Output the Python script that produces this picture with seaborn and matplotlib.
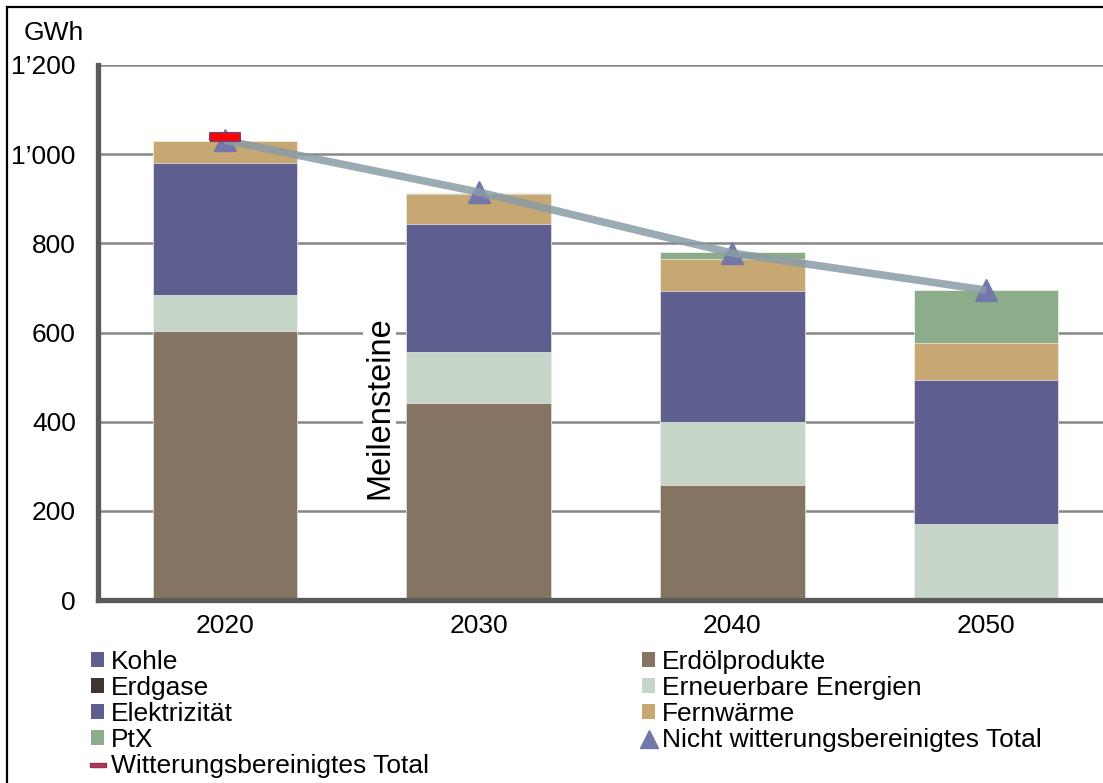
import numpy as np
import pandas as pd
import matplotlib
matplotlib.use("Agg")
import matplotlib.pyplot as plt
from matplotlib.patches import Patch, Rectangle
from matplotlib.lines import Line2D
import seaborn as sns

# data (GWh)
years = ["2020", "2030", "2040", "2050"]
kohle = [0, 0, 0, 0]
erdoel = [603, 442, 258, 0]
erdgase = [0, 0, 0, 0]
erneuerbar = [80, 114, 141, 170]
elektrizitaet = [297, 287, 294, 323]
fernwaerme = [49, 67, 72, 83]
ptx = [0, 3, 15, 119]
total_nicht_wb = [1031, 915, 778, 695]
total_wb = [1038, np.nan, np.nan, np.nan]

y_ticks = [0, 200, 400, 600, 800, 1000, 1200]
y_ticklabels = ["0", "200", "400", "600", "800", "1\u2019000", "1\u2019200"]

series = [
    ("Kohle", kohle, "#5e5f8e"),
    ("Erdölprodukte", erdoel, "#857462"),
    ("Erdgase", erdgase, "#3f3530"),
    ("Erneuerbare Energien", erneuerbar, "#c5d6c8"),
    ("Elektrizität", elektrizitaet, "#5e5f8e"),
    ("Fernwärme", fernwaerme, "#c7a772"),
    ("PtX", ptx, "#8dad8a"),
]

df = pd.DataFrame({name: vals for name, vals, _ in series}, index=years)
cum = df.cumsum(axis=1)

sns.set_theme(style="white")
plt.rcParams["font.family"] = ["Liberation Sans", "DejaVu Sans"]
plt.rcParams["text.color"] = "black"

fig = plt.figure(figsize=(11.03, 7.83), dpi=100)
ax = fig.add_axes([98 / 1103, 1 - 600 / 783, 1015 / 1103, 535 / 783])

# stacked bars: draw cumulative totals from top to bottom
for name, _, color in reversed(series):
    sns.barplot(x=years, y=cum[name].values, color=color, width=0.57,
                edgecolor="white", linewidth=0.4, saturation=1, ax=ax, zorder=2)

xpos = np.arange(len(years))
ax.plot(xpos, total_nicht_wb, linestyle="none", marker="^", markersize=16,
        color="#7377aa", zorder=3)
ax.plot(xpos, total_nicht_wb, color="#8a9ca6", lw=5.5, alpha=0.85, zorder=4,
        solid_capstyle="butt")

rect_marker = [(-1, -0.27), (1, -0.27), (1, 0.27), (-1, 0.27), (-1, -0.27)]
ax.plot(xpos, total_wb, linestyle="none", marker=rect_marker, markersize=22,
        markerfacecolor="#ff0000", markeredgecolor="#9b3050", markeredgewidth=1.5,
        zorder=5)

ax.set_xlim(-0.5, 3.5)
ax.set_ylim(0, 1200)
ax.set_yticks(y_ticks)
ax.set_yticklabels(y_ticklabels)
ax.set_xlabel("")
ax.set_ylabel("")
ax.tick_params(axis="y", length=0, pad=16, labelsize=19, labelcolor="black")
ax.tick_params(axis="x", length=0, pad=10, labelsize=19, labelcolor="black")

ax.set_axisbelow(True)
ax.yaxis.grid(True, color="#878787", lw=1.8)
ax.xaxis.grid(False)
for side in ["top", "right"]:
    ax.spines[side].set_visible(False)
for side in ["left", "bottom"]:
    ax.spines[side].set_color("#5a5a5a")
    ax.spines[side].set_linewidth(3.8)

ax.text(0.61, 431, "Meilensteine", rotation=90, ha="center", va="center",
        fontsize=23.5, color="black", zorder=6,
        bbox=dict(facecolor="white", edgecolor="none", pad=1))

fig.text(84 / 1103, 1 - 33 / 783, "GWh", ha="right", va="center", fontsize=19,
         color="black")

# legend, two columns drawn as separate legends
def sq(color):
    return Patch(facecolor=color, edgecolor="none")

col1 = [
    (sq("#5e5f8e"), "Kohle"),
    (sq("#3f3530"), "Erdgase"),
    (sq("#5e5f8e"), "Elektrizität"),
    (sq("#8dad8a"), "PtX"),
    (Line2D([], [], linestyle="none", marker=rect_marker, markersize=12,
            markerfacecolor="#b03a55", markeredgecolor="#9b3050"),
     "Witterungsbereinigtes Total"),
]
col2 = [
    (sq("#857462"), "Erdölprodukte"),
    (sq("#c5d6c8"), "Erneuerbare Energien"),
    (sq("#c7a772"), "Fernwärme"),
    (Line2D([], [], linestyle="none", marker="^", markersize=13, color="#7377aa"),
     "Nicht witterungsbereinigtes Total"),
]
for items, x0 in [(col1, 91), (col2, 642)]:
    leg = fig.legend([h for h, _ in items], [l for _, l in items],
                     loc="upper left", bbox_to_anchor=(x0 / 1103, 1 - 650 / 783),
                     frameon=False, fontsize=19, handlelength=0.5,
                     handleheight=0.5, handletextpad=0.25, labelspacing=0.08,
                     borderpad=0, borderaxespad=0)
    for t in leg.get_texts():
        t.set_color("black")

fig.add_artist(Rectangle((7 / 1103, -0.1), 1.2, 1.1 - 7 / 783, transform=fig.transFigure,
                         fill=False, edgecolor="black", lw=1.6))

fig.savefig("out.png", dpi=100)
